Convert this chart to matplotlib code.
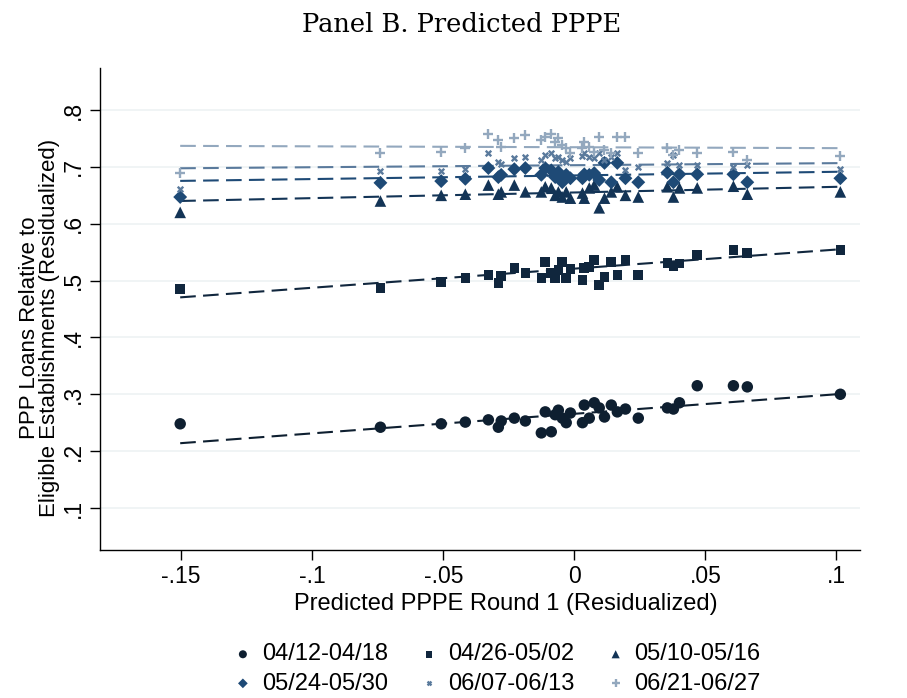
import matplotlib
matplotlib.use("Agg")
import matplotlib.pyplot as plt
import numpy as np

# shared bin positions (Predicted PPPE Round 1, residualized)
x_bins = [-0.1504, -0.0740, -0.0508, -0.0416, -0.0328, -0.0290, -0.0279, -0.0229,
          -0.0187, -0.0126, -0.0111, -0.0088, -0.0073, -0.0061, -0.0046, -0.0031,
          -0.0015, 0.0031, 0.0038, 0.0057, 0.0076, 0.0095, 0.0115, 0.0141,
          0.0164, 0.0195, 0.0244, 0.0355, 0.0378, 0.0401, 0.0469, 0.0607,
          0.0660, 0.1015]

labels = ["04/12-04/18", "04/26-05/02", "05/10-05/16",
          "05/24-05/30", "06/07-06/13", "06/21-06/27"]

y_0412 = [0.248, 0.242, 0.248, 0.251, 0.255, 0.242, 0.253, 0.258,
          0.253, 0.232, 0.269, 0.234, 0.264, 0.272, 0.258, 0.250,
          0.267, 0.250, 0.281, 0.258, 0.285, 0.276, 0.260, 0.281,
          0.269, 0.274, 0.258, 0.276, 0.274, 0.285, 0.315, 0.315,
          0.313, 0.300]
y_0426 = [0.485, 0.487, 0.497, 0.505, 0.510, 0.496, 0.508, 0.522,
          0.513, 0.505, 0.533, 0.513, 0.505, 0.519, 0.533, 0.505,
          0.520, 0.501, 0.522, 0.524, 0.536, 0.492, 0.506, 0.533,
          0.510, 0.536, 0.510, 0.531, 0.525, 0.530, 0.545, 0.554,
          0.549, 0.554]
y_0510 = [0.620, 0.640, 0.650, 0.652, 0.668, 0.652, 0.656, 0.668,
          0.656, 0.656, 0.665, 0.663, 0.650, 0.656, 0.647, 0.656,
          0.645, 0.654, 0.645, 0.663, 0.668, 0.628, 0.645, 0.656,
          0.665, 0.650, 0.647, 0.665, 0.647, 0.663, 0.663, 0.666,
          0.652, 0.656]
y_0524 = [0.647, 0.672, 0.675, 0.679, 0.698, 0.682, 0.686, 0.696,
          0.698, 0.686, 0.698, 0.694, 0.682, 0.691, 0.673, 0.686,
          0.680, 0.680, 0.687, 0.686, 0.689, 0.677, 0.707, 0.673,
          0.707, 0.680, 0.673, 0.690, 0.673, 0.687, 0.687, 0.687,
          0.673, 0.680]
y_0607 = [0.661, 0.693, 0.693, 0.696, 0.724, 0.709, 0.705, 0.716,
          0.717, 0.712, 0.721, 0.724, 0.716, 0.717, 0.712, 0.709,
          0.716, 0.720, 0.724, 0.717, 0.716, 0.724, 0.712, 0.717,
          0.724, 0.694, 0.700, 0.707, 0.721, 0.703, 0.703, 0.700,
          0.703, 0.696]
y_0621 = [0.689, 0.724, 0.726, 0.733, 0.758, 0.747, 0.735, 0.751,
          0.756, 0.747, 0.753, 0.758, 0.744, 0.751, 0.738, 0.733,
          0.724, 0.733, 0.744, 0.735, 0.726, 0.753, 0.730, 0.724,
          0.753, 0.753, 0.724, 0.733, 0.721, 0.730, 0.724, 0.726,
          0.712, 0.719]

# linear fit parameters (intercept, slope)
fit_intercept = [0.2656, 0.521, 0.655, 0.685, 0.703, 0.7346]
fit_slope = [0.344, 0.336, 0.0994, 0.064, 0.036, -0.016]

x_ticks = [-0.15, -0.1, -0.05, 0, 0.05, 0.1]
x_ticklabels = ["-.15", "-.1", "-.05", "0", ".05", ".1"]
y_ticks = [0.1, 0.2, 0.3, 0.4, 0.5, 0.6, 0.7, 0.8]
y_ticklabels = [".1", ".2", ".3", ".4", ".5", ".6", ".7", ".8"]

series = [y_0412, y_0426, y_0510, y_0524, y_0607, y_0621]
colors = ["#0e1f30", "#10263d", "#133456", "#1e4a76", "#5a7a9c", "#93a8be"]
markers = ["o", "s", "^", "D", "x", "+"]
msizes = [68, 48, 70, 50, 16, 52]
mlw = [0, 0, 0, 0, 1.7, 1.7]

W, H = 907, 698
fig = plt.figure(figsize=(W / 100, H / 100), dpi=100)
ax = fig.add_axes([100 / W, 1 - 550 / H, 760 / W, (550 - 68) / H])

xb = np.array(x_bins)
handles = []
for i, ys in enumerate(series):
    xs_line = np.array([xb.min(), xb.max()])
    ax.plot(xs_line, fit_intercept[i] + fit_slope[i] * xs_line, color=colors[i],
            lw=1.5, linestyle=(0, (7.5, 3.5)), zorder=2)
for i, ys in enumerate(series):
    if markers[i] in ("x", "+"):
        h = ax.scatter(xb, ys, s=msizes[i], marker=markers[i], color=colors[i],
                       linewidths=mlw[i], zorder=3)
    else:
        h = ax.scatter(xb, ys, s=msizes[i], marker=markers[i], color=colors[i],
                       edgecolors="none", zorder=3)
    handles.append(h)

ax.set_xlim(-0.181, 0.109)
ax.set_ylim(0.026, 0.874)
ax.set_xticks(x_ticks)
ax.set_xticklabels(x_ticklabels)
ax.set_yticks(y_ticks)
ax.set_yticklabels(y_ticklabels, rotation=90, va="center")
for y in y_ticks:
    ax.axhline(y, color="#edf2f4", lw=1.2, zorder=0)

for s in ["top", "right"]:
    ax.spines[s].set_visible(False)
for s in ["left", "bottom"]:
    ax.spines[s].set_linewidth(1.0)
    ax.spines[s].set_color("black")
ax.tick_params(axis="both", direction="out", length=7, width=1.0,
               labelsize=16.5, colors="black", pad=4)
for lab in ax.get_xticklabels() + ax.get_yticklabels():
    lab.set_fontfamily("Liberation Sans")

ax.set_xlabel("Predicted PPPE Round 1 (Residualized)", fontsize=17,
              family="Liberation Sans")
ax.xaxis.set_label_coords((506 - 100) / 760, -0.09)
ax.set_ylabel("PPP Loans Relative to\nEligible Establishments (Residualized)",
              fontsize=16, family="Liberation Sans", linespacing=0.95)
ax.yaxis.set_label_coords(-0.052, (550 - 328) / (550 - 68))

fig.text(462 / W, 1 - 24 / H, "Panel B. Predicted PPPE", ha="center", va="center",
         fontsize=18.5, family="DejaVu Serif")

order = [0, 3, 1, 4, 2, 5]
leg = fig.legend([handles[k] for k in order], [labels[k] for k in order],
                 ncol=3, loc="center", bbox_to_anchor=(496 / W, 1 - 669 / H),
                 frameon=False, prop={"family": "Liberation Sans", "size": 17},
                 handletextpad=0.3, columnspacing=1.25, labelspacing=0.3,
                 handlelength=1.0, markerscale=0.7, scatterpoints=1,
                 borderpad=0.2)

fig.savefig("out.png", dpi=100, facecolor="white")
